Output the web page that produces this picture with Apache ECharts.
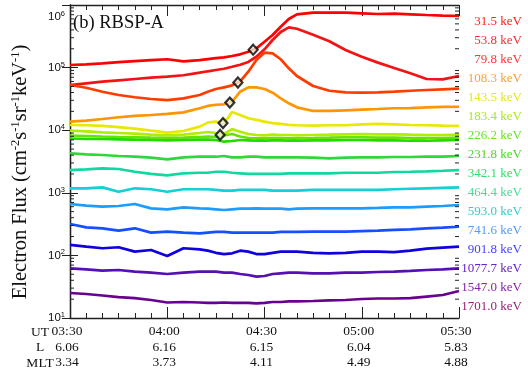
<!DOCTYPE html>
<html>
<head>
<meta charset="utf-8">
<title>RBSP-A electron flux</title>
<script src="https://cdn.jsdelivr.net/npm/echarts/dist/echarts.min.js"></script>
<style>
  html, body { margin: 0; padding: 0; background: #fff; }
  #main { width: 528px; height: 368px; }
</style>
</head>
<body>
<div id="main"></div>
<script>
// minutes after 03:30 UT
var times = [0,5,10,15,20,25,30,35,40,42.5,45,47.5,50,52.5,55,57.5,60,62.5,65,67.5,70,75,80,85,90,95,100,105,110,115,120];

var channels = ['31.5','53.8','79.8','108.3','143.5','183.4','226.2','231.8','342.1','464.4','593.0','741.6','901.8','1077.7','1547.0','1701.0'];

var e31_5  = [110000,113000,117000,122000,127000,132000,136000,126000,132000,137000,142000,146000,153000,163000,179000,203000,259000,332000,450000,597000,710000,753000,753000,753000,736000,718000,726000,710000,692000,675000,667000];
var e53_8  = [52700,56100,59500,62700,65800,69000,71600,75400,83000,87300,91600,96000,103000,111000,123000,149000,196000,276000,370000,440000,418000,336000,263000,191000,149000,120000,98600,81100,65800,65000,73400];
var e79_8  = [52700,47700,41200,36500,33600,31500,30300,32300,36500,41200,45500,48400,52100,60400,85900,132000,173000,169000,136000,97500,73400,50800,42700,40300,39700,40300,41200,42700,43900,45000,46000];
var e108_3 = [13700,14200,15100,16100,16900,17500,18200,19300,22400,24400,25500,25900,28500,41200,48400,48400,45500,39700,32300,26900,23200,20300,20300,20800,21300,21800,22400,22600,23200,23500,23700];
var e143_5 = [12100,12000,11700,11200,10600,9820,9120,9700,11400,13200,13700,12900,19500,17500,15500,14600,13700,13000,12600,12200,12000,11800,12000,12000,12400,12600,12400,12100,12000,11800,11700];
var e183_4 = [9820,9600,9250,9020,8790,8470,8290,8470,9020,9360,9020,8690,10400,9460,8690,8380,8290,8470,8380,8380,8290,8380,8470,8590,8690,8590,8590,8470,8380,8380,8470];
var e226_2 = [8230,8080,7930,7790,7710,7590,7500,7590,7790,7870,7790,8230,8690,7930,7500,7430,7430,7500,7500,7430,7430,7500,7590,7710,7710,7590,7590,7500,7500,7500,7590];
var e231_8 = [7370,7230,7230,7160,7050,6970,6900,6970,7050,7050,6970,6550,6720,6970,6900,6790,6790,6900,6900,6790,6790,6900,6900,6970,6970,6900,6900,6790,6790,6900,6970];
var e342_1 = [4280,4120,4020,3870,3770,3640,3430,3690,3770,3770,3770,3870,3690,3690,3770,3770,3690,3690,3690,3690,3690,3640,3560,3640,3690,3690,3730,3730,3770,3770,3870];
var e464_4 = [2310,2370,2460,2400,2170,2000,1900,2050,2090,2090,2170,2170,2090,2050,2000,2000,2000,2000,2000,2050,2050,2050,2050,2090,2090,2090,2150,2170,2200,2250,2310];
var e593_0 = [1180,1180,1220,1040,1180,1140,1040,1140,1140,1140,1110,1080,1080,1110,1110,1110,1110,1080,1080,1080,1080,1110,1110,1110,1110,1110,1140,1160,1180,1200,1220];
var e741_6 = [662,622,600,615,662,565,545,586,565,557,545,531,545,557,557,565,557,557,557,545,557,565,565,565,565,574,586,586,600,615,638];
var e901_8 = [318,281,271,248,271,231,239,231,225,231,237,237,231,231,231,231,231,231,237,237,237,239,239,239,245,248,255,261,271,277,287];
var e1077_7 = [147,138,130,135,115,122,97.8,130,125,119,110,105,108,119,115,105,105,110,115,115,115,110,108,110,115,115,113,119,128,133,138];
var e1547_0 = [62.2,60.0,57.0,58.5,54.9,53.0,50.5,53.0,54.9,54.9,54.9,53.0,53.0,50.5,48.6,45.7,46.9,50.5,51.8,53.0,53.0,51.8,51.8,53.0,53.0,54.3,54.9,56.4,58.5,60.0,62.2];
var e1701_0 = [25.1,24.2,22.9,21.6,20.8,19.4,17.7,18.0,17.7,17.4,17.4,17.7,17.4,17.4,17.4,17.1,17.4,18.0,18.0,18.4,18.4,18.7,19.1,19.4,20.1,20.5,20.5,20.8,22.0,23.3,27.0];

var fluxes = [e31_5,e53_8,e79_8,e108_3,e143_5,e183_4,e226_2,e231_8,e342_1,e464_4,e593_0,e741_6,e901_8,e1077_7,e1547_0,e1701_0];

// injection onset markers
var onsetT = [56.5, 51.8, 49.3, 47.2, 46.3];
var onsetV = [193000, 57800, 27600, 13000, 8400];

// bottom tick rows
var utLabels  = ['03:30','04:00','04:30','05:00','05:30'];
var lLabels   = ['6.06','6.16','6.15','6.04','5.83'];
var mltLabels = ['3.34','3.73','4.11','4.49','4.88'];
// cut-off labels of the panel above
var topLabels = ['10.51','10.88','11.08','11.34','11.59'];

var minorMant = [2,3,4,5,6,7,8,9];
var decades = [10,100,1000,10000,100000];

var lineColors  = ['#ff0000','#f21414','#ff3c00','#ff9600','#e8e800','#b0ee00','#66e400','#22dc00','#2ed83a','#10d8a0','#14cfd8','#1c9cff','#1450ff','#1000e0','#5410b4','#6a0090'];
var labelColors = ['#ff2020','#f03030','#ff3434','#ffa030','#e6e620','#a8e820','#66e622','#44dd22','#33dd66','#44dd99','#33cccc','#5599ff','#4444ff','#6622cc','#8822aa','#992277'];

var serif = '"Liberation Serif", "Times New Roman", serif';
var sans = '"Liberation Sans", Arial, sans-serif';

var minorTickVals = [];
decades.forEach(function (d) { minorMant.forEach(function (m) { minorTickVals.push([0, m * d]); }); });

var series = [];
channels.forEach(function (name, i) {
    series.push({
        name: name,
        type: 'line',
        showSymbol: false,
        symbol: 'none',
        lineStyle: { color: lineColors[i], width: 2.7 },
        itemStyle: { color: lineColors[i] },
        emphasis: { disabled: true },
        data: times.map(function (t, k) { return [t, fluxes[i][k]]; })
    });
});
series.push({
    name: 'onset',
    type: 'scatter',
    symbol: 'diamond',
    symbolSize: [9, 10],
    itemStyle: { color: '#f4f0d8', borderColor: '#000', borderWidth: 2.2 },
    z: 10,
    data: onsetT.map(function (t, k) { return [t, onsetV[k]]; })
});
series.push({
    name: 'minorTicks',
    type: 'custom',
    silent: true,
    clip: false,
    z: 8,
    encode: { x: 0, y: 1 },
    data: minorTickVals,
    renderItem: function (params, api) {
        var v = api.value(1);
        var a = api.coord([0, v]);
        var b = api.coord([120, v]);
        return {
            type: 'group',
            children: [
                { type: 'line', shape: { x1: a[0], y1: a[1], x2: a[0] + 4, y2: a[1] }, style: { stroke: '#222', lineWidth: 1 } },
                { type: 'line', shape: { x1: b[0], y1: b[1], x2: b[0] - 4, y2: b[1] }, style: { stroke: '#222', lineWidth: 1 } }
            ]
        };
    }
});

var expLabel = function (value) {
    var n = Math.round(Math.log(value) / Math.LN10);
    var s = '{b|10}{s|' + n + '}';
    return n === 6 ? '\n\n' + s : s;
};

var axisLineStyle = { color: '#222', width: 1.3 };

var myChart = echarts.init(document.getElementById('main'));
var option = {
    animation: false,
    backgroundColor: '#fff',
    grid: { left: 70, right: 69, top: 5, bottom: 50, containLabel: false, outerBoundsMode: 'none' },
    legend: {
        data: channels.map(function (n, i) { return { name: n, textStyle: { color: labelColors[i] } }; }),
        formatter: function (name) { return name + ' keV'; },
        orient: 'vertical',
        right: 1,
        top: 12,
        padding: 0,
        itemGap: 0,
        itemWidth: 0,
        itemHeight: 0,
        icon: 'none',
        align: 'right',
        selectedMode: false,
        textStyle: { fontFamily: serif, fontSize: 13, lineHeight: 19 }
    },
    xAxis: [{
        type: 'value',
        min: 0,
        max: 120,
        interval: 30,
        axisLine: { lineStyle: axisLineStyle },
        axisTick: { inside: true, length: 11, lineStyle: { color: '#222' } },
        minorTick: { show: true, splitNumber: 6, length: 5, lineStyle: { color: '#222' } },
        splitLine: { show: false },
        axisLabel: {
            margin: 6,
            showMinLabel: true,
            showMaxLabel: true,
            padding: [0, 6, 0, 0],
            fontFamily: serif,
            fontSize: 13.5,
            lineHeight: 15.5,
            color: '#111',
            formatter: function (v) {
                var i = Math.round(v / 30);
                return utLabels[i] + '\n' + lLabels[i] + '\n' + mltLabels[i];
            }
        }
    }, {
        type: 'value',
        position: 'top',
        min: 0,
        max: 120,
        interval: 30,
        axisLine: { lineStyle: axisLineStyle },
        axisTick: { inside: true, length: 11, lineStyle: { color: '#222' } },
        minorTick: { show: true, splitNumber: 6, length: 5, lineStyle: { color: '#222' } },
        splitLine: { show: false },
        axisLabel: {
            margin: 3,
            showMinLabel: true,
            showMaxLabel: true,
            padding: [0, 6, 0, 0],
            fontFamily: serif,
            fontSize: 13.5,
            color: '#111',
            formatter: function (v) { return topLabels[Math.round(v / 30)]; }
        }
    }],
    yAxis: [{
        type: 'log',
        logBase: 10,
        min: 10,
        max: 1000000,
        axisLine: { show: true, lineStyle: axisLineStyle },
        axisTick: { inside: true, length: 8, lineStyle: { color: '#222' } },
        splitLine: { show: false },
        axisLabel: {
            margin: 5,
            lineHeight: 12,
            color: '#111',
            formatter: expLabel,
            rich: {
                b: { fontFamily: sans, fontSize: 11.5, lineHeight: 14, color: '#111' },
                s: { fontFamily: sans, fontSize: 7.5, verticalAlign: 'top', color: '#111' }
            }
        }
    }, {
        type: 'log',
        logBase: 10,
        min: 10,
        max: 1000000,
        position: 'right',
        axisLine: { show: true, lineStyle: axisLineStyle },
        axisTick: { inside: true, length: 8, lineStyle: { color: '#222' } },
        splitLine: { show: false },
        axisLabel: { show: false }
    }],
    graphic: [{
        type: 'text',
        left: 73,
        top: 14,
        style: { text: '(b) RBSP-A', font: '18.5px ' + serif, fill: '#111' }
    }, {
        type: 'text',
        x: 21,
        y: 172,
        rotation: Math.PI / 2,
        style: {
            text: '{m|Electron Flux (cm}{s|-2}{m|s}{s|-1}{m|sr}{s|-1}{m|keV}{s|-1}{m|)}',
            align: 'center',
            verticalAlign: 'middle',
            rich: {
                m: { fontFamily: serif, fontSize: 20.5, lineHeight: 24, fill: '#111' },
                s: { fontFamily: serif, fontSize: 12.5, verticalAlign: 'top', fill: '#111' }
            }
        }
    }, {
        type: 'text', x: 40, y: 332,
        style: { text: 'UT', align: 'center', verticalAlign: 'middle', font: '13.5px ' + serif, fill: '#111' }
    }, {
        type: 'text', x: 40, y: 347.5,
        style: { text: 'L', align: 'center', verticalAlign: 'middle', font: '13.5px ' + serif, fill: '#111' }
    }, {
        type: 'text', x: 40, y: 363,
        style: { text: 'MLT', align: 'center', verticalAlign: 'middle', font: '13.5px ' + serif, fill: '#111' }
    }, {
        type: 'text', x: 40, y: -5,
        style: { text: 'MLT', align: 'center', verticalAlign: 'middle', font: '13.5px ' + serif, fill: '#111' }
    }],
    series: series
};
myChart.setOption(option);
</script>
</body>
</html>
